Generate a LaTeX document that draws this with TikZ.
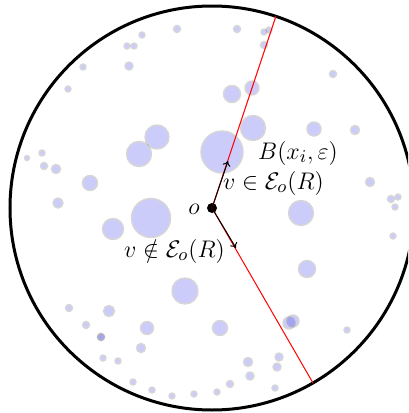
\documentclass[tikz,border=0pt]{standalone}
\usepackage{amssymb}
\usetikzlibrary{arrows.meta}
\begin{document}
\begin{tikzpicture}[x=0.5pt,y=-0.5pt,
  ballgrp/.style={transparency group,opacity=0.2},
  ball/.style={draw=black!80,fill=blue!90!black,line width=0.7pt},
  lbl/.style={inner sep=0pt,font=\fontsize{12.4}{15}\selectfont},
  ray/.style={red,line width=0.5pt},
  vec/.style={black,line width=0.5pt,-{To[length=2.5pt,width=4pt]}}]
\useasboundingbox (0,0) rectangle (408,413);
\clip (0,0) rectangle (408,413);
% small balls
\foreach \x/\y/\r in {
 142/35/3, 177/29/3.5, 237/29/3.5, 264/32/3, 269/30/3, 127/46/3, 134/46/3,
 264/45/3.5, 129/66/4, 83/67/3, 68/89/3, 333/74/3.5, 232/94/8.5, 252/88/7,
 157/137/12, 139/154/12.5, 222/152/21, 253/128/12.5, 314/129/7, 355/130/4.5,
 151/218/19.5, 113/229/10.5, 301/213/12.5, 307/269/8.5,
 27/158/2.5, 42/153/3, 44/166/3.5, 56/169/4.5, 90/183/7.5, 58/203/5,
 370/182/4.5, 391/199/3.5, 398/197/3, 395/207/3, 393/236/3,
 185/291/13, 69/308/3.5, 109/311/5.5, 86/325/3.5, 147/328/6.5, 220/328/7.5,
 101/337/3.5, 101/337/3.5, 141/348/4.5, 103/358/3, 118/361/3,
 289/323/6, 293/321/6, 347/330/3, 248/362/4.5, 279/357/4, 277/367/4,
 250/376/4, 230/384/3.5, 217/392/3, 194/394/3, 172/396/3, 152/390/3,
 133/382/3, 275/388/3}
  {\begin{scope}[ballgrp]\path[ball] (\x,\y) circle[radius=\r];\end{scope}}
% big disc
\node[circle,draw=black,line width=1.5pt,minimum size=202pt,inner sep=0pt] (disc) at (212,208) {};
\coordinate (top) at (276,16);
\coordinate (bot) at (313,383);
\coordinate (tin) at (228,161);
\coordinate (tout) at (236,248);
\node[circle,fill=black,inner sep=0pt,minimum size=5pt] (o) at (212,208) {};
\draw[ray] (o.center) -- (top);
\draw[ray] (o.center) -- (bot);
\draw[vec] (o.center) -- (tin);
\draw[vec] (o.center) -- (tout);
\node[lbl] (lo) at (194,209) {$o$};
\node[lbl] (lb) at (298,153) {$B(x_i,\varepsilon)$};
\node[lbl] (lin) at (273.5,183) {$v\in\mathcal{E}_o(R)$};
\node[lbl] (lout) at (174.5,251) {$v\notin\mathcal{E}_o(R)$};
\end{tikzpicture}
\end{document}
